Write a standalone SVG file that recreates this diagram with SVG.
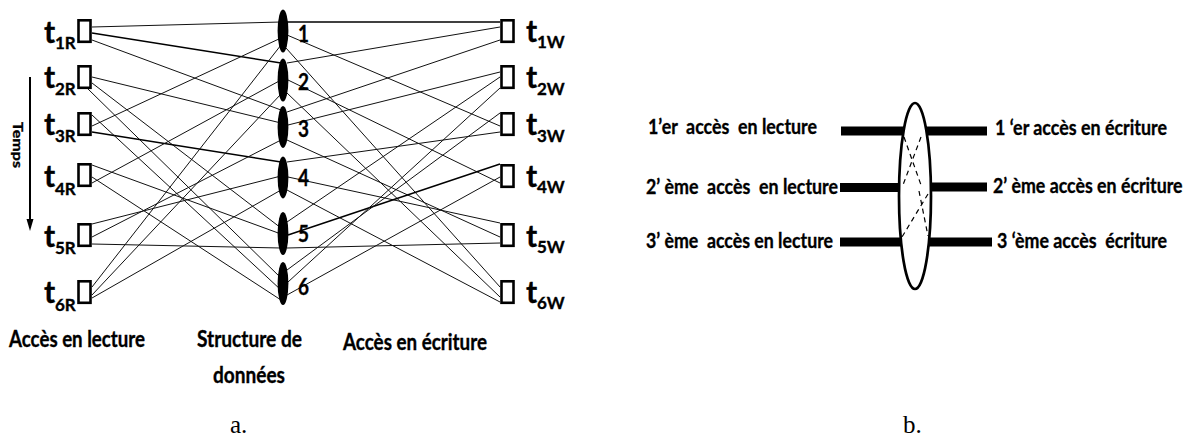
<svg xmlns="http://www.w3.org/2000/svg" width="1196" height="440" viewBox="0 0 1196 440">
<style>
.b{font-family:Lato,"Liberation Sans",sans-serif;font-weight:bold;fill:#000;stroke:#000;stroke-width:0.35;white-space:pre}
.t{font-size:30px}
.s{font-size:17px}
.n{font-size:23px}
.cap{font-size:22px}
.bl{font-size:21px}
.box{fill:#fff;stroke:#000;stroke-width:2.6}
.dot{fill:#000}
.ln{stroke:#111;stroke-width:1;fill:none}
.lk{stroke:#000;stroke-width:1.5;fill:none}
.bar{stroke:#000;stroke-width:9;fill:none}
.dash{stroke:#000;stroke-width:1.2;stroke-dasharray:5 4;fill:none}
.fig{font-family:"Liberation Serif",serif;font-size:25px;fill:#000}
</style>

<g id="connectors">
  <line class="ln" x1="92" y1="27" x2="281" y2="22"/>
  <line class="lk" x1="92" y1="33" x2="281" y2="63"/>
  <line class="ln" x1="92" y1="40" x2="281" y2="110"/>
  <line class="ln" x1="92" y1="77" x2="281" y2="123"/>
  <line class="ln" x1="92" y1="83" x2="281" y2="228"/>
  <line class="ln" x1="88" y1="89" x2="281" y2="278"/>
  <line class="ln" x1="92" y1="126" x2="281" y2="38"/>
  <line class="lk" x1="92" y1="132" x2="281" y2="162"/>
  <line class="ln" x1="92" y1="115" x2="281" y2="290"/>
  <line class="ln" x1="92" y1="183" x2="281" y2="80"/>
  <line class="ln" x1="92" y1="165" x2="281" y2="234"/>
  <line class="ln" x1="92" y1="177" x2="281" y2="300"/>
  <line class="ln" x1="92" y1="237" x2="281" y2="140"/>
  <line class="ln" x1="92" y1="224" x2="281" y2="176"/>
  <line class="ln" x1="92" y1="244" x2="281" y2="248"/>
  <line class="ln" x1="92" y1="287" x2="281" y2="45"/>
  <line class="ln" x1="92" y1="295" x2="281" y2="94"/>
  <line class="ln" x1="92" y1="298" x2="281" y2="190"/>

  <line class="lk" x1="285" y1="22" x2="500" y2="22"/>
  <line class="ln" x1="287" y1="35" x2="500" y2="126"/>
  <line class="ln" x1="286" y1="48" x2="500" y2="287"/>
  <line class="ln" x1="287" y1="63" x2="500" y2="27"/>
  <line class="ln" x1="288" y1="80" x2="500" y2="183"/>
  <line class="ln" x1="287" y1="93" x2="500" y2="297"/>
  <line class="ln" x1="287" y1="112" x2="500" y2="40"/>
  <line class="ln" x1="288" y1="125" x2="500" y2="72"/>
  <line class="ln" x1="287" y1="140" x2="500" y2="237"/>
  <line class="ln" x1="287" y1="162" x2="500" y2="132"/>
  <line class="ln" x1="288" y1="177" x2="500" y2="223"/>
  <line class="ln" x1="287" y1="190" x2="500" y2="302"/>
  <line class="ln" x1="287" y1="222" x2="500" y2="77"/>
  <line class="lk" x1="288" y1="235" x2="500" y2="164"/>
  <line class="ln" x1="287" y1="248" x2="500" y2="243"/>
  <line class="ln" x1="287" y1="270" x2="500" y2="113"/>
  <line class="ln" x1="288" y1="282" x2="500" y2="88"/>
  <line class="ln" x1="287" y1="295" x2="500" y2="177"/>
</g>

<g id="time-arrow">
  <line x1="30" y1="77" x2="30" y2="222" stroke="#000" stroke-width="2"/>
  <polygon points="26.5,219 33.5,219 30,231" fill="#000"/>
  <text class="b" font-size="14" transform="translate(13,122) rotate(90)" textLength="46" lengthAdjust="spacingAndGlyphs">Temps</text>
</g>

<g id="read-1"><rect class="box" x="78.5" y="20.3" width="12" height="21.5"/><text class="b t" x="44" y="43">t<tspan class="s" x="55" y="49">1R</tspan></text></g>
<g id="read-2"><rect class="box" x="78.5" y="66.3" width="12" height="21.5"/><text class="b t" x="44" y="88">t<tspan class="s" x="55" y="95">2R</tspan></text></g>
<g id="read-3"><rect class="box" x="78.5" y="113.3" width="12" height="21.5"/><text class="b t" x="44" y="135">t<tspan class="s" x="55" y="142">3R</tspan></text></g>
<g id="read-4"><rect class="box" x="78.5" y="164.3" width="12" height="21.5"/><text class="b t" x="44" y="187">t<tspan class="s" x="55" y="195">4R</tspan></text></g>
<g id="read-5"><rect class="box" x="78.5" y="224.3" width="12" height="21.5"/><text class="b t" x="44" y="247">t<tspan class="s" x="55" y="254">5R</tspan></text></g>
<g id="read-6"><rect class="box" x="78.5" y="281.3" width="12" height="21.5"/><text class="b t" x="44" y="303">t<tspan class="s" x="55" y="311">6R</tspan></text></g>

<g id="data-1"><ellipse class="dot" cx="283" cy="31" rx="5.4" ry="21.5"/><text class="b n" x="298" y="42" textLength="11" lengthAdjust="spacingAndGlyphs">1</text></g>
<g id="data-2"><ellipse class="dot" cx="283" cy="80" rx="5.4" ry="21.5"/><text class="b n" x="298" y="90" textLength="11" lengthAdjust="spacingAndGlyphs">2</text></g>
<g id="data-3"><ellipse class="dot" cx="283" cy="127" rx="5.4" ry="21"/><text class="b n" x="298" y="137" textLength="11" lengthAdjust="spacingAndGlyphs">3</text></g>
<g id="data-4"><ellipse class="dot" cx="283" cy="177.5" rx="5.4" ry="21"/><text class="b n" x="298" y="186" textLength="11" lengthAdjust="spacingAndGlyphs">4</text></g>
<g id="data-5"><ellipse class="dot" cx="283" cy="233.5" rx="5.4" ry="21.5"/><text class="b n" x="298" y="242" textLength="11" lengthAdjust="spacingAndGlyphs">5</text></g>
<g id="data-6"><ellipse class="dot" cx="283" cy="283.5" rx="5.4" ry="21.5"/><text class="b n" x="298" y="295" textLength="11" lengthAdjust="spacingAndGlyphs">6</text></g>

<g id="write-1"><rect class="box" x="501.5" y="20.3" width="12" height="21.5"/><text class="b t" x="526" y="42">t<tspan class="s" x="537" y="48">1W</tspan></text></g>
<g id="write-2"><rect class="box" x="501.5" y="66.3" width="12" height="21.5"/><text class="b t" x="526" y="88">t<tspan class="s" x="537" y="95">2W</tspan></text></g>
<g id="write-3"><rect class="box" x="501.5" y="113.3" width="12" height="21.5"/><text class="b t" x="526" y="135">t<tspan class="s" x="537" y="142">3W</tspan></text></g>
<g id="write-4"><rect class="box" x="501.5" y="165.3" width="12" height="21.5"/><text class="b t" x="526" y="187">t<tspan class="s" x="537" y="193">4W</tspan></text></g>
<g id="write-5"><rect class="box" x="501.5" y="224.3" width="12" height="21.5"/><text class="b t" x="526" y="247">t<tspan class="s" x="537" y="253">5W</tspan></text></g>
<g id="write-6"><rect class="box" x="501.5" y="281.3" width="12" height="21.5"/><text class="b t" x="526" y="303">t<tspan class="s" x="537" y="309">6W</tspan></text></g>

<g id="captions-a">
  <text class="b cap" x="9" y="347" textLength="136" lengthAdjust="spacingAndGlyphs">Accès en lecture</text>
  <text class="b cap" x="197" y="347" textLength="105" lengthAdjust="spacingAndGlyphs">Structure de</text>
  <text class="b cap" x="213" y="383" textLength="72" lengthAdjust="spacingAndGlyphs">données</text>
  <text class="b cap" x="343" y="350" textLength="144" lengthAdjust="spacingAndGlyphs">Accès en écriture</text>
  <text class="fig" x="230" y="433">a.</text>
</g>

<g id="part-b-connectors">
  <line class="bar" x1="841" y1="131" x2="904" y2="131"/>
  <line class="bar" x1="840" y1="187.5" x2="899" y2="187.5"/>
  <line class="bar" x1="840" y1="242" x2="901" y2="242"/>
  <line class="bar" x1="926" y1="131" x2="987" y2="131"/>
  <line class="bar" x1="931" y1="187" x2="987" y2="187"/>
  <line class="bar" x1="929" y1="242" x2="992" y2="242"/>
  <line class="dash" x1="904" y1="137" x2="921" y2="185"/>
  <line class="dash" x1="921" y1="137" x2="903" y2="185"/>
  <line class="dash" x1="919" y1="191" x2="928" y2="236"/>
  <line class="dash" x1="928" y1="194" x2="902" y2="237"/>
</g>

<g id="shared-structure">
  <ellipse cx="915" cy="196" rx="16" ry="93" fill="none" stroke="#000" stroke-width="2.7"/>
</g>

<g id="read-labels-b">
  <text class="b bl" x="648" y="134" textLength="169" lengthAdjust="spacingAndGlyphs">1’er  accès  en lecture</text>
  <text class="b bl" x="646" y="194" textLength="192" lengthAdjust="spacingAndGlyphs">2’ ème  accès  en lecture</text>
  <text class="b bl" x="646" y="248" textLength="187" lengthAdjust="spacingAndGlyphs">3’ ème  accès en lecture</text>
</g>
<g id="write-labels-b">
  <text class="b bl" x="995" y="135" textLength="172" lengthAdjust="spacingAndGlyphs">1 ‘er accès en écriture</text>
  <text class="b bl" transform="translate(993,193) scale(0.8,1)" x="0" y="0" textLength="237" lengthAdjust="spacingAndGlyphs">2’ ème accès en écriture</text>
  <text class="b bl" x="997" y="248" textLength="170" lengthAdjust="spacingAndGlyphs">3 ‘ème accès  écriture</text>
</g>
<text class="fig" x="903" y="433">b.</text>
</svg>
